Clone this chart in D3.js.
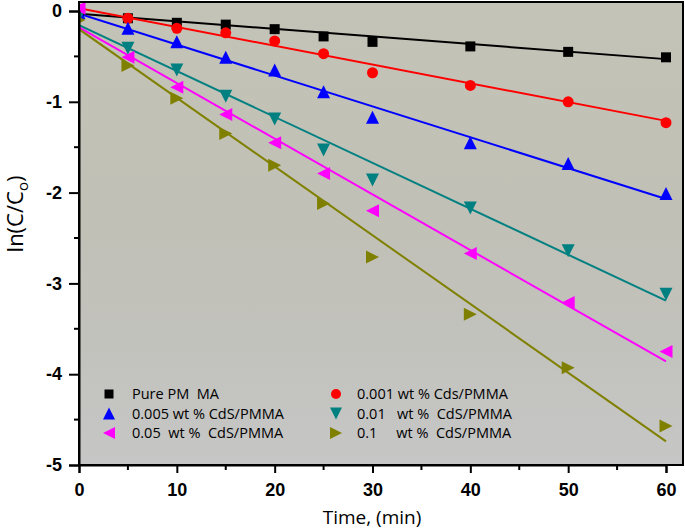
<!DOCTYPE html>
<html>
<head>
<meta charset="utf-8">
<script src="https://cdn.jsdelivr.net/npm/d3@7"></script>
<style>
  body { margin: 0; background: #fff; }
  svg { display: block; }
</style>
</head>
<body>
<script>
// time points (min)
var times = [0, 5, 10, 15, 20, 25, 30, 40, 50, 60];

// ln(C/Co)
var purePMMA = [0, -0.08, -0.13, -0.15, -0.20, -0.28, -0.34, -0.39, -0.45, -0.51];
var cds0001  = [0.02, -0.08, -0.19, -0.24, -0.33, -0.47, -0.68, -0.82, -1.00, -1.23];
var cds0005  = [-0.02, -0.19, -0.34, -0.51, -0.65, -0.89, -1.17, -1.45, -1.68, -2.01];
var cds001   = [-0.05, -0.41, -0.65, -0.94, -1.19, -1.53, -1.86, -2.17, -2.64, -3.12];
var cds005   = [0.03, -0.51, -0.84, -1.14, -1.45, -1.79, -2.20, -2.67, -3.21, -3.75];
var cds01    = [-0.1, -0.60, -0.96, -1.35, -1.70, -2.12, -2.71, -3.34, -3.93, -4.57];

// fitted lines, value at t = 0 and at t = 60
var fitStart = [-0.03, 0.03, -0.03, -0.155, -0.18, -0.20];
var fitEnd   = [-0.53, -1.21, -2.07, -3.19, -3.86, -4.74];

var names = ["Pure PM  MA", "0.001 wt % Cds/PMMA", "0.005 wt % CdS/PMMA",
  "0.01   wt %  CdS/PMMA", "0.05  wt %  CdS/PMMA", "0.1     wt %  CdS/PMMA"];
var colors = ["#000000", "#ff0000", "#0000ff", "#008080", "#ff00ff", "#808000"];
var shapes = ["square", "circle", "up", "down", "left", "right"];
var seriesValues = [purePMMA, cds0001, cds0005, cds001, cds005, cds01];

var xTicks = [0, 10, 20, 30, 40, 50, 60];
var yTicks = [0, -1, -2, -3, -4, -5];

var W = 685, H = 530;
var pL = 79, pT = 2, pR = 683, pB = 465;

var x = d3.scaleLinear().domain([0, 60]).range([pL, 666]);
var y = d3.scaleLinear().domain([0, -5]).range([11, pB]);

var svg = d3.select("body").append("svg")
  .attr("width", W).attr("height", H);

var defs = svg.append("defs");
var grad = defs.append("linearGradient").attr("id", "bg")
  .attr("x1", 0).attr("y1", 0).attr("x2", 0).attr("y2", 1);
grad.append("stop").attr("offset", "0%").attr("stop-color", "#c4c3b7");
grad.append("stop").attr("offset", "45%").attr("stop-color", "#c1c0b6");
grad.append("stop").attr("offset", "75%").attr("stop-color", "#c2c2bd");
grad.append("stop").attr("offset", "100%").attr("stop-color", "#c6c6c6");

defs.append("clipPath").attr("id", "clip")
  .append("rect").attr("x", pL).attr("y", pT)
  .attr("width", pR - pL).attr("height", pB - pT);

svg.append("rect")
  .attr("x", pL).attr("y", pT)
  .attr("width", pR - pL).attr("height", pB - pT)
  .attr("fill", "url(#bg)");

// fit lines
var plot = svg.append("g").attr("clip-path", "url(#clip)");
plot.selectAll(".fit")
  .data(colors)
  .enter().append("line")
    .attr("class", "fit")
    .attr("x1", x(0)).attr("x2", x(60))
    .attr("y1", function(d, i) { return y(fitStart[i]); })
    .attr("y2", function(d, i) { return y(fitEnd[i]); })
    .attr("stroke", function(d) { return d; })
    .attr("stroke-width", 2);

// marker path
function marker(shape, s) {
  if (shape == "square") return d3.symbol(d3.symbolSquare, s * s)();
  if (shape == "circle") return d3.symbol(d3.symbolCircle, Math.PI * s * s / 4)();
  var h = s * 0.5;
  if (shape == "up") return "M0," + (-h) + "L" + h + "," + h + "L" + (-h) + "," + h + "Z";
  if (shape == "down") return "M0," + h + "L" + h + "," + (-h) + "L" + (-h) + "," + (-h) + "Z";
  if (shape == "left") return "M" + (-h) + ",0L" + h + "," + (-h) + "L" + h + "," + h + "Z";
  return "M" + h + ",0L" + (-h) + "," + (-h) + "L" + (-h) + "," + h + "Z";
}
var sizes = {square: 10, circle: 11, up: 13, down: 13, left: 13, right: 13};

seriesValues.forEach(function(vals, i) {
  plot.selectAll(".pt" + i)
    .data(vals)
    .enter().append("path")
      .attr("class", "pt" + i)
      .attr("d", marker(shapes[i], sizes[shapes[i]]))
      .attr("transform", function(d, j) {
        return "translate(" + x(times[j]) + "," + y(d) + ")";
      })
      .attr("fill", colors[i]);
});

// frame
svg.append("rect")
  .attr("x", pL).attr("y", pT)
  .attr("width", pR - pL).attr("height", pB - pT)
  .attr("fill", "none").attr("stroke", "#000").attr("stroke-width", 2);

// axes
var xAxis = svg.append("g")
  .attr("transform", "translate(0," + pB + ")")
  .call(d3.axisBottom(x).tickValues(xTicks).tickSize(8).tickPadding(10).tickFormat(d3.format("d")));
xAxis.append("g").selectAll("line")
  .data([5, 15, 25, 35, 45, 55])
  .enter().append("line")
    .attr("x1", function(d) { return x(d); }).attr("x2", function(d) { return x(d); })
    .attr("y1", 0).attr("y2", 5).attr("stroke", "#000").attr("stroke-width", 2);

var yAxis = svg.append("g")
  .attr("transform", "translate(" + pL + ",0)")
  .call(d3.axisLeft(y).tickValues(yTicks).tickSize(10).tickPadding(7).tickFormat(d3.format("d")));
yAxis.append("g").selectAll("line")
  .data([-0.5, -1.5, -2.5, -3.5, -4.5])
  .enter().append("line")
    .attr("y1", function(d) { return y(d); }).attr("y2", function(d) { return y(d); })
    .attr("x1", 0).attr("x2", -5).attr("stroke", "#000").attr("stroke-width", 2);

[xAxis, yAxis].forEach(function(a) {
  a.select(".domain").attr("stroke-width", 2);
  a.selectAll(".tick line").attr("stroke-width", 2);
  a.selectAll("text")
    .attr("font-family", "'Liberation Sans', Arial, sans-serif")
    .attr("font-weight", "bold")
    .attr("font-size", 18)
    .attr("fill", "#000");
});
yAxis.selectAll(".tick text").text(function(d) { return d3.format("d")(d).replace("−", "-"); });

// axis titles
svg.append("text")
  .attr("x", 372).attr("y", 524)
  .attr("text-anchor", "middle")
  .attr("font-family", "'Open Sans', sans-serif")
  .attr("font-size", 19)
  .text("Time, (min)");

var yt = svg.append("text")
  .attr("transform", "translate(23,214) rotate(-90)")
  .attr("text-anchor", "middle")
  .attr("font-family", "'Open Sans', sans-serif")
  .attr("font-size", 22);
yt.append("tspan").text("ln(C/C");
yt.append("tspan").attr("font-size", 15).attr("dy", 5).text("o");
yt.append("tspan").attr("dy", -5).text(")");

// legend
var legend = svg.append("g")
  .attr("font-family", "'Open Sans', sans-serif")
  .attr("font-size", 14.5);
names.forEach(function(n, i) {
  var col = i % 2, row = Math.floor(i / 2);
  var lx = col == 0 ? 109 : 336;
  var ly = 394 + row * 19.5;
  legend.append("path")
    .attr("d", marker(shapes[i], sizes[shapes[i]] - 1))
    .attr("transform", "translate(" + lx + "," + ly + ")")
    .attr("fill", colors[i]);
  legend.append("text")
    .attr("x", col == 0 ? 132 : 357)
    .attr("y", ly + 5)
    .attr("xml:space", "preserve")
    .style("white-space", "pre")
    .text(n);
});
</script>
</body>
</html>
